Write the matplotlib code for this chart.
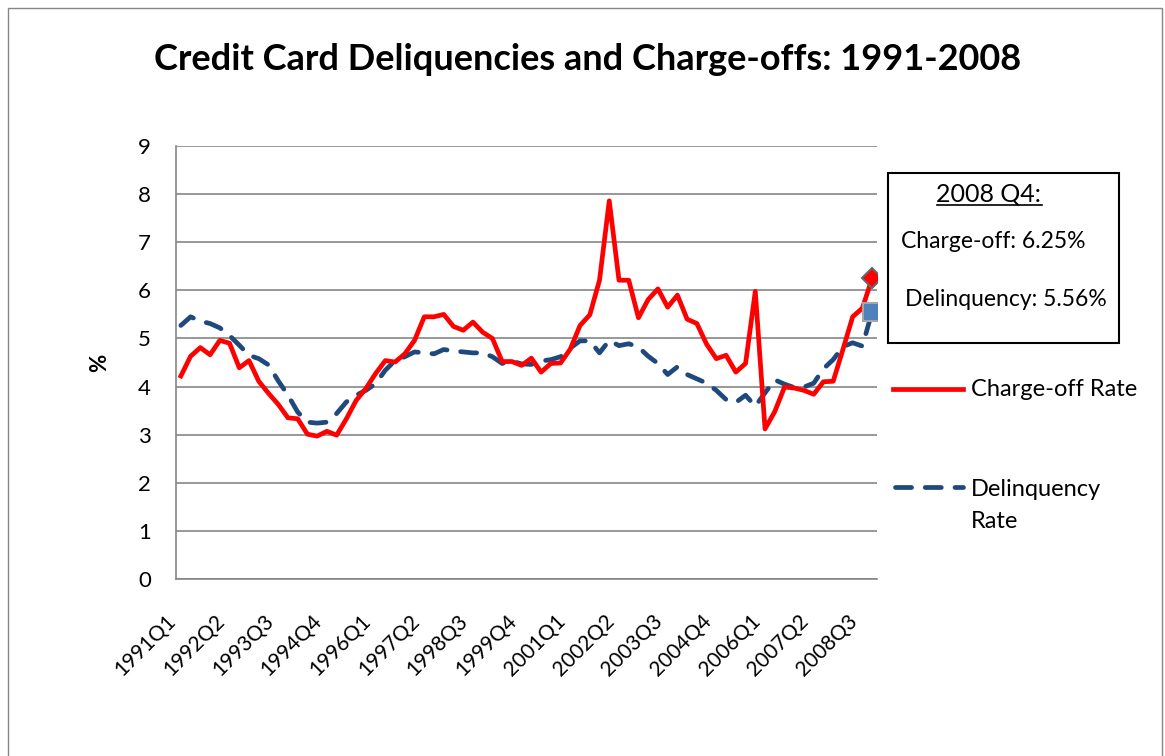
import matplotlib
matplotlib.use("Agg")
import matplotlib.pyplot as plt
from matplotlib.lines import Line2D
from matplotlib.patches import Rectangle
from matplotlib.transforms import ScaledTranslation

plt.rcParams["font.family"] = ["Lato", "DejaVu Sans"]

W, H = 1165, 756

quarters = [f"{y}Q{q}" for y in range(1991, 2009) for q in range(1, 5)]

charge_off = [
    4.22, 4.63, 4.81, 4.66, 4.96, 4.90, 4.39, 4.54, 4.11, 3.86, 3.63, 3.35,
    3.33, 3.01, 2.97, 3.07, 2.99, 3.33, 3.71, 3.96, 4.27, 4.54, 4.51, 4.68,
    4.96, 5.45, 5.45, 5.50, 5.25, 5.17, 5.34, 5.13, 5.00, 4.52, 4.52, 4.44,
    4.59, 4.30, 4.48, 4.49, 4.78, 5.27, 5.49, 6.21, 7.86, 6.21, 6.21, 5.43,
    5.81, 6.03, 5.65, 5.90, 5.40, 5.31, 4.88, 4.58, 4.65, 4.30, 4.48, 5.98,
    3.12, 3.48, 3.99, 3.97, 3.92, 3.84, 4.10, 4.11, 4.77, 5.45, 5.63, 6.25,
]

delinquency = [
    5.27, 5.45, 5.36, 5.31, 5.22, 5.06, 4.86, 4.65, 4.58, 4.45, 4.12, 3.82,
    3.47, 3.26, 3.24, 3.26, 3.44, 3.68, 3.82, 3.92, 4.06, 4.34, 4.54, 4.62,
    4.72, 4.70, 4.68, 4.77, 4.74, 4.72, 4.70, 4.70, 4.62, 4.48, 4.53, 4.47,
    4.46, 4.53, 4.56, 4.62, 4.80, 4.95, 4.95, 4.70, 4.96, 4.85, 4.89, 4.82,
    4.63, 4.48, 4.25, 4.41, 4.25, 4.16, 4.07, 3.92, 3.73, 3.67, 3.82, 3.59,
    3.87, 4.14, 4.05, 3.98, 3.99, 4.07, 4.37, 4.56, 4.83, 4.91, 4.84, 5.56,
]

y_ticks = list(range(0, 10))


def fx(px):
    return px / W


def fy(py):
    return 1 - py / H


fig = plt.figure(figsize=(W / 100, H / 100), dpi=100)
ax = fig.add_axes([fx(176), fy(579), fx(877) - fx(176), fy(146) - fy(579)])

x = list(range(len(quarters)))
ax.plot(x, charge_off, color="#FF0000", lw=3.4, solid_joinstyle="round", zorder=3)
ax.plot(x, delinquency, color="#1F497D", lw=3.4, dashes=(3.4, 2.9),
        dash_capstyle="round", zorder=2)
ax.plot(x[-1], charge_off[-1], marker="D", ms=10, color="#FF0000",
        mec="#666666", mew=1.5, zorder=4)
ax.plot(x[-1], delinquency[-1], marker="s", ms=13, color="#4F81BD",
        mec="#A6A6A6", mew=1.5, zorder=4)

ax.set_xlim(-0.5, len(quarters) - 0.5)
ax.set_ylim(0, 9)
ax.set_yticks(y_ticks)
ax.grid(axis="y", color="#868686", lw=1.2)
ax.set_axisbelow(True)
for s in ["top", "right"]:
    ax.spines[s].set_visible(False)
for s in ["left", "bottom"]:
    ax.spines[s].set_color("#868686")
    ax.spines[s].set_linewidth(1.2)

ax.set_xticks(x[::5])
ax.set_xticklabels(quarters[::5], rotation=45, ha="right", va="center",
                   rotation_mode="anchor", fontsize=15)
ax.tick_params(axis="x", length=0, pad=28)
ax.tick_params(axis="y", length=0, pad=18, labelsize=16)
for lab in ax.get_xticklabels():
    lab.set_transform(lab.get_transform() + ScaledTranslation(-0.08, 0, fig.dpi_scale_trans))

ax.set_ylabel("%", fontsize=16, fontweight="bold")
ax.yaxis.set_label_coords((110 - 176) / 701, 0.5)

fig.text(fx(588), fy(60), "Credit Card Deliquencies and Charge-offs: 1991-2008",
         ha="center", va="center", fontsize=26, fontweight="bold")

# outer chart border
fig.add_artist(Rectangle((fx(8), -0.1), fx(1162) - fx(8), fy(8) + 0.1,
                         transform=fig.transFigure, fill=False,
                         edgecolor="#868686", lw=1))

# annotation box
fig.add_artist(Rectangle((fx(888), fy(343)), fx(1119) - fx(888), fy(173) - fy(343),
                         transform=fig.transFigure, fill=False,
                         edgecolor="black", lw=1.5))
head = fig.text(fx(989), fy(194), "2008 Q4:", ha="center", va="center", fontsize=18)
fig.text(fx(901), fy(241), "Charge-off: 6.25%", ha="left", va="center", fontsize=16.5)
fig.text(fx(905), fy(299), "Delinquency: 5.56%", ha="left", va="center", fontsize=16.5)
fig.canvas.draw()
bb = head.get_window_extent()
fig.add_artist(Line2D([bb.x0 / W, bb.x1 / W], [(bb.y0 + 1) / H] * 2,
                      transform=fig.transFigure, color="black", lw=1.2))

# legend
fig.add_artist(Line2D([fx(893), fx(963)], [fy(389)] * 2, transform=fig.transFigure,
                      color="#FF0000", lw=3.4))
fig.text(fx(971), fy(389), "Charge-off Rate", ha="left", va="center", fontsize=17)
fig.add_artist(Line2D([fx(895), fx(963)], [fy(487)] * 2, transform=fig.transFigure,
                      color="#1F497D", lw=3.4, dashes=(3.4, 2.9), dash_capstyle="round"))
fig.text(fx(971), fy(489), "Delinquency", ha="left", va="center", fontsize=17)
fig.text(fx(971), fy(521), "Rate", ha="left", va="center", fontsize=17)

fig.savefig("out.png", dpi=100)
